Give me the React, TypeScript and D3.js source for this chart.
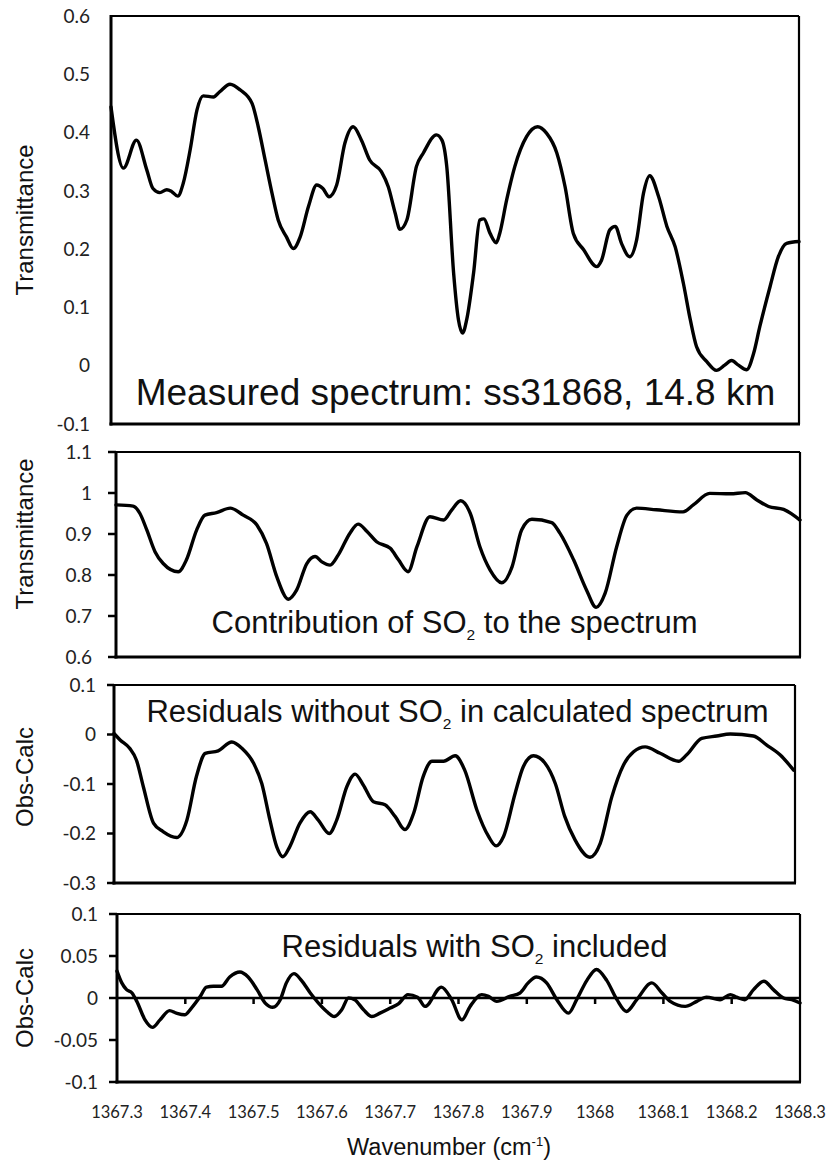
import React from 'react';
import * as d3 from 'd3';

// ---------- data ----------
const xTickValues = [1367.3, 1367.4, 1367.5, 1367.6, 1367.7, 1367.8, 1367.9, 1368.0, 1368.1, 1368.2, 1368.3];
const xTickLabels = ['1367.3', '1367.4', '1367.5', '1367.6', '1367.7', '1367.8', '1367.9', '1368', '1368.1', '1368.2', '1368.3'];

const yTicksMeasured = [-0.1, 0, 0.1, 0.2, 0.3, 0.4, 0.5, 0.6];
const yLabelsMeasured = ['-0.1', '0', '0.1', '0.2', '0.3', '0.4', '0.5', '0.6'];
const yTicksSO2 = [0.6, 0.7, 0.8, 0.9, 1.0, 1.1];
const yLabelsSO2 = ['0.6', '0.7', '0.8', '0.9', '1', '1.1'];
const yTicksResNo = [-0.3, -0.2, -0.1, 0, 0.1];
const yLabelsResNo = ['-0.3', '-0.2', '-0.1', '0', '0.1'];
const yTicksResWith = [-0.1, -0.05, 0, 0.05, 0.1];
const yLabelsResWith = ['-0.1', '-0.05', '0', '0.05', '0.1'];

// Measured spectrum ss31868, 14.8 km
const wnMeasured = [1367.300, 1367.318, 1367.337, 1367.352, 1367.361, 1367.371, 1367.381, 1367.388, 1367.397, 1367.405, 1367.415, 1367.425, 1367.434, 1367.449, 1367.458, 1367.473, 1367.488, 1367.505, 1367.514, 1367.524, 1367.534, 1367.543, 1367.555, 1367.565, 1367.575, 1367.587, 1367.599, 1367.608, 1367.617, 1367.628, 1367.640, 1367.652, 1367.664, 1367.676, 1367.693, 1367.703, 1367.713, 1367.720, 1367.730, 1367.744, 1367.754, 1367.773, 1367.781, 1367.788, 1367.798, 1367.805, 1367.811, 1367.817, 1367.827, 1367.836, 1367.842, 1367.851, 1367.860, 1367.865, 1367.875, 1367.887, 1367.904, 1367.920, 1367.933, 1367.948, 1367.960, 1367.972, 1367.987, 1368.006, 1368.013, 1368.025, 1368.033, 1368.042, 1368.054, 1368.064, 1368.074, 1368.083, 1368.096, 1368.108, 1368.120, 1368.132, 1368.142, 1368.151, 1368.166, 1368.180, 1368.192, 1368.202, 1368.212, 1368.224, 1368.234, 1368.243, 1368.258, 1368.270, 1368.282, 1368.300];
const trMeasured = [0.444, 0.339, 0.387, 0.336, 0.304, 0.297, 0.302, 0.299, 0.291, 0.313, 0.370, 0.439, 0.463, 0.461, 0.470, 0.483, 0.473, 0.450, 0.410, 0.353, 0.296, 0.250, 0.221, 0.201, 0.221, 0.273, 0.310, 0.304, 0.290, 0.310, 0.382, 0.410, 0.387, 0.353, 0.333, 0.307, 0.262, 0.234, 0.250, 0.342, 0.365, 0.396, 0.387, 0.342, 0.159, 0.079, 0.056, 0.079, 0.159, 0.250, 0.252, 0.227, 0.211, 0.227, 0.284, 0.342, 0.393, 0.410, 0.399, 0.365, 0.307, 0.227, 0.199, 0.170, 0.181, 0.233, 0.239, 0.210, 0.187, 0.216, 0.296, 0.326, 0.290, 0.239, 0.204, 0.141, 0.079, 0.033, 0.007, -0.008, 0.001, 0.009, 0.001, -0.007, 0.021, 0.067, 0.136, 0.187, 0.210, 0.213];

// Contribution of SO2
const wnSO2 = [1367.300, 1367.325, 1367.335, 1367.345, 1367.357, 1367.369, 1367.391, 1367.403, 1367.418, 1367.430, 1367.447, 1367.467, 1367.486, 1367.506, 1367.520, 1367.535, 1367.552, 1367.564, 1367.579, 1367.591, 1367.601, 1367.613, 1367.625, 1367.642, 1367.654, 1367.667, 1367.681, 1367.701, 1367.713, 1367.727, 1367.740, 1367.759, 1367.779, 1367.791, 1367.804, 1367.818, 1367.832, 1367.847, 1367.864, 1367.879, 1367.893, 1367.908, 1367.937, 1367.949, 1367.969, 1367.988, 1368.002, 1368.015, 1368.032, 1368.047, 1368.061, 1368.090, 1368.129, 1368.144, 1368.168, 1368.198, 1368.220, 1368.237, 1368.254, 1368.276, 1368.300];
const trSO2 = [0.971, 0.968, 0.950, 0.910, 0.857, 0.828, 0.808, 0.837, 0.910, 0.946, 0.952, 0.963, 0.946, 0.922, 0.877, 0.796, 0.741, 0.763, 0.828, 0.845, 0.832, 0.824, 0.849, 0.902, 0.924, 0.906, 0.881, 0.865, 0.837, 0.808, 0.869, 0.942, 0.934, 0.959, 0.981, 0.950, 0.869, 0.812, 0.781, 0.820, 0.910, 0.936, 0.928, 0.902, 0.837, 0.763, 0.721, 0.755, 0.869, 0.946, 0.963, 0.959, 0.954, 0.971, 0.999, 0.998, 1.001, 0.983, 0.967, 0.960, 0.934];

// Residuals without SO2
const wnResNo = [1367.300, 1367.309, 1367.323, 1367.333, 1367.343, 1367.358, 1367.372, 1367.392, 1367.407, 1367.421, 1367.434, 1367.453, 1367.473, 1367.488, 1367.505, 1367.517, 1367.529, 1367.539, 1367.548, 1367.558, 1367.573, 1367.588, 1367.600, 1367.616, 1367.627, 1367.642, 1367.654, 1367.666, 1367.681, 1367.698, 1367.713, 1367.727, 1367.740, 1367.754, 1367.767, 1367.784, 1367.801, 1367.815, 1367.833, 1367.850, 1367.861, 1367.872, 1367.889, 1367.901, 1367.916, 1367.933, 1367.948, 1367.962, 1367.977, 1367.999, 1368.014, 1368.031, 1368.048, 1368.063, 1368.080, 1368.102, 1368.129, 1368.141, 1368.163, 1368.185, 1368.205, 1368.239, 1368.258, 1368.278, 1368.298];
const resNo = [0.002, -0.011, -0.028, -0.052, -0.105, -0.179, -0.196, -0.208, -0.173, -0.085, -0.038, -0.033, -0.015, -0.028, -0.058, -0.099, -0.173, -0.227, -0.247, -0.227, -0.179, -0.156, -0.173, -0.200, -0.173, -0.105, -0.080, -0.102, -0.136, -0.142, -0.166, -0.192, -0.159, -0.085, -0.054, -0.054, -0.043, -0.072, -0.153, -0.206, -0.225, -0.206, -0.119, -0.065, -0.043, -0.058, -0.099, -0.166, -0.213, -0.248, -0.220, -0.126, -0.062, -0.035, -0.025, -0.038, -0.054, -0.041, -0.008, -0.003, 0.001, -0.003, -0.021, -0.041, -0.072];

// Residuals with SO2 included
const wnResWith = [1367.300, 1367.307, 1367.314, 1367.322, 1367.329, 1367.341, 1367.352, 1367.363, 1367.377, 1367.387, 1367.399, 1367.409, 1367.422, 1367.431, 1367.441, 1367.453, 1367.465, 1367.480, 1367.492, 1367.505, 1367.517, 1367.528, 1367.539, 1367.548, 1367.559, 1367.570, 1367.583, 1367.595, 1367.607, 1367.618, 1367.629, 1367.639, 1367.648, 1367.661, 1367.673, 1367.685, 1367.700, 1367.712, 1367.726, 1367.740, 1367.751, 1367.775, 1367.790, 1367.805, 1367.817, 1367.834, 1367.844, 1367.856, 1367.875, 1367.890, 1367.902, 1367.914, 1367.929, 1367.944, 1367.961, 1367.973, 1367.988, 1368.002, 1368.017, 1368.032, 1368.046, 1368.061, 1368.083, 1368.098, 1368.110, 1368.132, 1368.149, 1368.163, 1368.183, 1368.198, 1368.207, 1368.219, 1368.232, 1368.247, 1368.261, 1368.276, 1368.288, 1368.300];
const resWith = [0.032, 0.018, 0.010, 0.006, -0.004, -0.026, -0.035, -0.026, -0.015, -0.018, -0.020, -0.012, 0.002, 0.013, 0.014, 0.014, 0.025, 0.031, 0.025, 0.010, -0.006, -0.011, -0.002, 0.018, 0.029, 0.021, 0.006, -0.006, -0.016, -0.022, -0.014, 0.000, -0.002, -0.014, -0.022, -0.018, -0.012, -0.007, 0.004, 0.001, -0.010, 0.013, -0.002, -0.026, -0.010, 0.004, 0.002, -0.004, 0.002, 0.006, 0.018, 0.025, 0.018, -0.002, -0.018, -0.002, 0.021, 0.034, 0.021, -0.002, -0.016, -0.002, 0.018, 0.006, -0.004, -0.010, -0.004, 0.001, -0.002, 0.004, 0.001, -0.002, 0.010, 0.020, 0.010, 0.000, -0.002, -0.006];

// ---------- layout ----------
const W = 829;
const H = 1164;
const LABEL_FONT = "Lato, 'Open Sans', sans-serif";
const TEXT_FONT = "'Liberation Sans', Arial, sans-serif";

type Panel = {
  left: number; right: number; top: number; bottom: number;
  domain: [number, number];
  ticks: number[]; labels: string[];
  tickLen: number; labelRight: number;
  title: string; titleY: number;
  wn: number[]; vals: number[];
  zeroLine?: boolean;
  note: [string, string, string]; noteX: number; noteY: number; noteSize: number;
};

function PanelView({ p }: { p: Panel }) {
  const x = d3.scaleLinear().domain([1367.3, 1368.3]).range([p.left, p.right]);
  const y = d3.scaleLinear().domain(p.domain).range([p.bottom, p.top]);
  const pts: [number, number][] = p.wn.map((w, i) => [w, p.vals[i]]);
  const line = d3.line<[number, number]>()
    .x(d => x(d[0]))
    .y(d => y(d[1]))
    .curve(d3.curveMonotoneX);
  const [pre, sub, post] = p.note;
  const shift = p.noteSize * 0.22;
  return (
    <g>
      {/* box */}
      <line x1={p.left} x2={p.right} y1={p.top} y2={p.top} stroke="#000" strokeWidth={2.2} />
      <line x1={p.right} x2={p.right} y1={p.top} y2={p.bottom} stroke="#000" strokeWidth={2.2} />
      <line x1={p.left - 1.5} x2={p.right + 1} y1={p.bottom} y2={p.bottom} stroke="#000" strokeWidth={3} />
      <line x1={p.left} x2={p.left} y1={p.top - 1} y2={p.bottom + 1.5} stroke="#000" strokeWidth={3} />
      {/* y ticks */}
      {p.ticks.map((t, i) => (
        <g key={i}>
          {p.tickLen > 0 && (
            <line x1={p.left - p.tickLen} x2={p.left} y1={y(t)} y2={y(t)} stroke="#000" strokeWidth={2.5} />
          )}
          <text x={p.labelRight} y={y(t)} dy="0.35em" textAnchor="end"
            fontFamily={LABEL_FONT} fontSize={19} fill="#222">{p.labels[i]}</text>
        </g>
      ))}
      {/* zero line with x ticks */}
      {p.zeroLine && (
        <g>
          <line x1={p.left} x2={p.right} y1={y(0)} y2={y(0)} stroke="#000" strokeWidth={2.5} />
          {xTickValues.slice(1, -1).map((t, i) => (
            <line key={i} x1={x(t)} x2={x(t)} y1={y(0)} y2={y(0) + 6} stroke="#000" strokeWidth={2.5} />
          ))}
        </g>
      )}
      {/* data */}
      <path d={line(pts) || ''} fill="none" stroke="#000" strokeWidth={3.4}
        strokeLinejoin="round" strokeLinecap="round" />
      {/* y title */}
      <text transform={`translate(33,${p.titleY}) rotate(-90)`} textAnchor="middle"
        fontFamily={TEXT_FONT} fontSize={24} fill="#111">{p.title}</text>
      {/* annotation */}
      <text x={p.noteX} y={p.noteY} textAnchor="middle" fontFamily={TEXT_FONT}
        fontSize={p.noteSize} fill="#111">
        <tspan>{pre}</tspan>
        {sub && <tspan fontSize={p.noteSize * 0.5} dy={shift}>{sub}</tspan>}
        {post && <tspan dy={sub ? -shift : 0}>{post}</tspan>}
      </text>
    </g>
  );
}

export default function App() {
  const panels: Panel[] = [
    {
      left: 111, right: 799, top: 16, bottom: 424, domain: [-0.1, 0.6],
      ticks: yTicksMeasured, labels: yLabelsMeasured, tickLen: 0, labelRight: 90,
      title: 'Transmittance', titleY: 220, wn: wnMeasured, vals: trMeasured,
      note: ['Measured spectrum: ss31868, 14.8 km', '', ''], noteX: 455.5, noteY: 405, noteSize: 37,
    },
    {
      left: 116, right: 800, top: 452, bottom: 657, domain: [0.6, 1.1],
      ticks: yTicksSO2, labels: yLabelsSO2, tickLen: 8, labelRight: 92,
      title: 'Transmittance', titleY: 534, wn: wnSO2, vals: trSO2,
      note: ['Contribution of SO', '2', ' to the spectrum'],
      noteX: 454.5, noteY: 633, noteSize: 31,
    },
    {
      left: 114, right: 795, top: 685, bottom: 883, domain: [-0.3, 0.1],
      ticks: yTicksResNo, labels: yLabelsResNo, tickLen: 7, labelRight: 96,
      title: 'Obs-Calc', titleY: 777, wn: wnResNo, vals: resNo,
      note: ['Residuals without SO', '2', ' in calculated spectrum'],
      noteX: 457.5, noteY: 722, noteSize: 31,
    },
    {
      left: 117, right: 800, top: 914, bottom: 1082, domain: [-0.1, 0.1],
      ticks: yTicksResWith, labels: yLabelsResWith, tickLen: 8, labelRight: 98,
      title: 'Obs-Calc', titleY: 998, wn: wnResWith, vals: resWith, zeroLine: true,
      note: ['Residuals with SO', '2', ' included'],
      noteX: 474.5, noteY: 957, noteSize: 31,
    },
  ];
  const last = panels[3];
  const xb = d3.scaleLinear().domain([1367.3, 1368.3]).range([last.left, last.right]);
  return (
    <svg width={W} height={H} viewBox={`0 0 ${W} ${H}`}
      style={{ position: 'absolute', left: 0, top: 0, background: '#fff' }}>
      <rect x={0} y={0} width={W} height={H} fill="#fff" />
      {panels.map((p, i) => <PanelView key={i} p={p} />)}
      {xTickValues.map((t, i) => (
        <text key={i} x={xb(t)} y={1118} textAnchor="middle" fontFamily={LABEL_FONT}
          fontSize={16.5} fill="#222">{xTickLabels[i]}</text>
      ))}
      <text x={449} y={1155} textAnchor="middle" fontFamily={TEXT_FONT} fontSize={23.5} fill="#111">
        <tspan>Wavenumber (cm</tspan>
        <tspan fontSize={13} dy={-9}>-1</tspan>
        <tspan dy={9}>)</tspan>
      </text>
    </svg>
  );
}
